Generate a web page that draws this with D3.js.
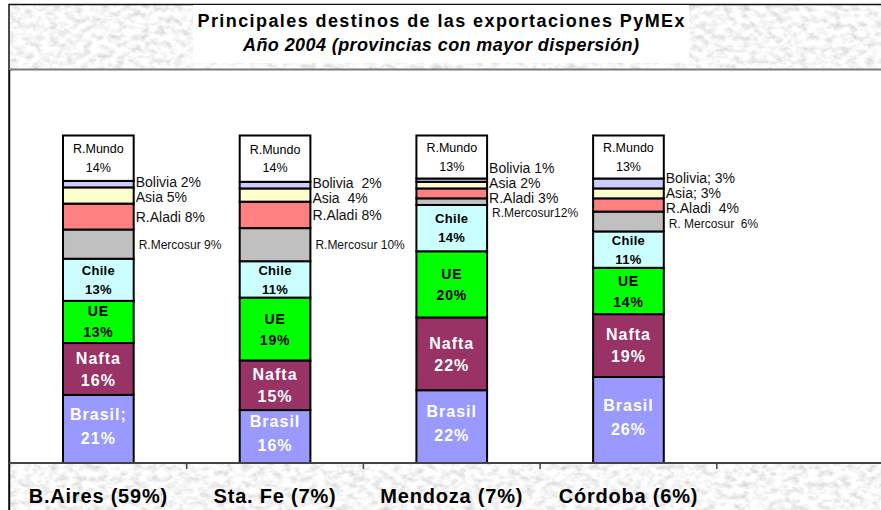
<!DOCTYPE html>
<html>
<head>
<meta charset="utf-8">
<script src="https://cdn.jsdelivr.net/npm/d3@7"></script>
<style>
    body { margin: 0; background: #fff; }
    svg { display: block; font-family: "Liberation Sans", Arial, sans-serif; }
    text { white-space: pre; }
</style>
</head>
<body>
<svg id="chart" width="881" height="510"></svg>
<script>
// datos (porcentajes por provincia, de abajo hacia arriba)
const provinces = ["B.Aires (59%)", "Sta. Fe (7%)", "Mendoza (7%)", "Córdoba (6%)"];
const series = ["Brasil", "Nafta", "UE", "Chile", "R.Mercosur", "R.Aladi", "Asia", "Bolivia", "R.Mundo"];
const colors = ["#9999ff", "#993366", "#00ff00", "#ccffff", "#c0c0c0", "#ff8080", "#ffffcc", "#ccccff", "#ffffff"];

const baires_values = [21, 16, 13, 13, 9, 8, 5, 2, 14];
const stafe_values = [16, 15, 19, 11, 10, 8, 4, 2, 14];
const mendoza_values = [22, 22, 20, 14, 2, 3, 2, 1, 13];
const cordoba_values = [26, 19, 14, 11, 6, 4, 3, 3, 13];

// etiquetas laterales (R.Mercosur, R.Aladi, Asia, Bolivia) tal como aparecen
const baires_side = ["R.Mercosur 9%", "R.Aladi 8%", "Asia 5%", "Bolivia 2%"];
const stafe_side = ["R.Mercosur 10%", "R.Aladi 8%", "Asia  4%", "Bolivia  2%"];
const mendoza_side = ["R.Mercosur12%", "R.Aladi 3%", "Asia 2%", "Bolivia 1%"];
const cordoba_side = ["R. Mercosur  6%", "R.Aladi  4%", "Asia; 3%", "Bolivia; 3%"];

const brasil_names = ["Brasil;", "Brasil", "Brasil", "Brasil"];

const title_1 = "Principales destinos de las exportaciones PyMEx";
const title_2 = "Año 2004 (provincias con mayor dispersión)";

const all_values = [baires_values, stafe_values, mendoza_values, cordoba_values];
const all_side = [baires_side, stafe_side, mendoza_side, cordoba_side];

const svg = d3.select("#chart");
const width = 881, height = 510;

// textura tipo granito para el fondo
const defs = svg.append("defs");
const filter = defs.append("filter").attr("id", "granite")
    .attr("x", 0).attr("y", 0).attr("width", "100%").attr("height", "100%");
filter.append("feTurbulence")
    .attr("type", "fractalNoise")
    .attr("baseFrequency", "0.12 0.17")
    .attr("numOctaves", 3)
    .attr("seed", 7);
filter.append("feColorMatrix")
    .attr("type", "matrix")
    .attr("values", "0.65 0 0 0 0.6  0.65 0 0 0 0.6  0.65 0 0 0 0.6  0 0 0 0 1");

svg.append("rect")
    .attr("x", 9).attr("y", 4)
    .attr("width", width - 9).attr("height", height - 4)
    .attr("filter", "url(#granite)");

// marco exterior
svg.append("path")
    .attr("d", `M9,${height} V4.5 H${width}`)
    .attr("fill", "none")
    .attr("stroke", "#111")
    .attr("stroke-width", 1.5);

// caja blanca del titulo
svg.append("rect")
    .attr("x", 193).attr("y", 5)
    .attr("width", 496).attr("height", 58)
    .attr("fill", "#fff");

svg.append("text")
    .attr("x", 441).attr("y", 27)
    .attr("text-anchor", "middle")
    .attr("font-size", 18).attr("font-weight", "bold")
    .attr("textLength", 487).attr("lengthAdjust", "spacing")
    .text(title_1);

svg.append("text")
    .attr("x", 441).attr("y", 51)
    .attr("text-anchor", "middle")
    .attr("font-size", 18).attr("font-weight", "bold").attr("font-style", "italic")
    .attr("textLength", 396).attr("lengthAdjust", "spacing")
    .text(title_2);

// area de grafico
const plot_top = 70, plot_bottom = 463, plot_left = 10;

svg.append("rect")
    .attr("x", 9.5).attr("y", plot_top)
    .attr("width", width - 9.5).attr("height", plot_bottom - plot_top)
    .attr("fill", "#fff");
svg.append("line")
    .attr("x1", 9).attr("x2", width)
    .attr("y1", plot_top - 0.5).attr("y2", plot_top - 0.5)
    .attr("stroke", "#7a7a7a").attr("stroke-width", 2);
svg.append("line")
    .attr("x1", 9.5).attr("x2", 9.5)
    .attr("y1", plot_top).attr("y2", height)
    .attr("stroke", "#111").attr("stroke-width", 1.5);

const x = d3.scaleBand()
    .domain(provinces.concat([""]))
    .range([plot_left, plot_left + 5 * 176.7])
    .paddingInner(0.6).paddingOuter(0.3);
const band_step = x.step();

const y = d3.scaleLinear()
    .domain([0, 120])
    .range([plot_bottom, plot_top]);

// apilado normalizado a 100%
const stacked = provinces.map((p, i) => {
    const vals = all_values[i];
    const total = d3.sum(vals);
    let acc = 0;
    return vals.map((v, j) => {
        const y0 = acc / total * 100;
        acc += v;
        return { province: p, pi: i, si: j, value: v, y0: y0, y1: acc / total * 100 };
    });
});

const bar_group = svg.append("g");
bar_group.selectAll("g")
    .data(stacked)
    .enter()
    .append("g")
    .selectAll("rect")
    .data(d => d)
    .enter()
    .append("rect")
    .attr("x", d => x(d.province))
    .attr("y", d => y(d.y1))
    .attr("width", x.bandwidth())
    .attr("height", d => y(d.y0) - y(d.y1))
    .attr("fill", d => colors[d.si])
    .attr("stroke", "#000")
    .attr("stroke-width", 2);

// eje inferior con marcas entre categorias
svg.append("line")
    .attr("x1", 9).attr("x2", width)
    .attr("y1", plot_bottom).attr("y2", plot_bottom)
    .attr("stroke", "#444").attr("stroke-width", 2);
svg.append("g")
    .selectAll("line")
    .data(d3.range(1, 5))
    .enter()
    .append("line")
    .attr("x1", i => plot_left + i * band_step)
    .attr("x2", i => plot_left + i * band_step)
    .attr("y1", plot_bottom).attr("y2", plot_bottom + 6)
    .attr("stroke", "#444").attr("stroke-width", 1.5);

svg.append("g")
    .selectAll("text")
    .data(provinces)
    .enter()
    .append("text")
    .attr("x", d => x(d) + x.bandwidth() / 2)
    .attr("y", 503)
    .attr("text-anchor", "middle")
    .attr("font-size", 20).attr("font-weight", "bold")
    .attr("letter-spacing", 0.8)
    .attr("fill", "#000")
    .text(d => d);

// etiquetas internas: nombre y porcentaje en dos lineas
const inner_style = {
    "Brasil":  { size: 16, weight: "bold", fill: "#fff", gap: 24, spacing: 1, shift: -3 },
    "Nafta":   { size: 16, weight: "bold", fill: "#fff", gap: 22, spacing: 1, shift: 0 },
    "UE":      { size: 14, weight: "bold", fill: "#000", gap: 21, spacing: 0.8, shift: 0 },
    "Chile":   { size: 13, weight: "bold", fill: "#000", gap: 19, spacing: 0.3, shift: 0 },
    "R.Mundo": { size: 12.5, weight: "normal", fill: "#000", gap: 18.5, spacing: 0, shift: 0 }
};

const inner_data = stacked.flat().filter(d => inner_style[series[d.si]]);

const inner_labels = svg.append("g")
    .selectAll("g")
    .data(inner_data)
    .enter()
    .append("g")
    .attr("transform", d => {
        const st = inner_style[series[d.si]];
        const cy = (y(d.y0) + y(d.y1)) / 2 + st.shift;
        return `translate(${x(d.province) + x.bandwidth() / 2},${cy - st.gap / 2 + st.size * 0.36})`;
    });

inner_labels.append("text")
    .attr("text-anchor", "middle")
    .attr("font-size", d => inner_style[series[d.si]].size)
    .attr("font-weight", d => inner_style[series[d.si]].weight)
    .attr("letter-spacing", d => inner_style[series[d.si]].spacing)
    .attr("fill", d => inner_style[series[d.si]].fill)
    .text(d => series[d.si] === "Brasil" ? brasil_names[d.pi] : series[d.si]);

inner_labels.append("text")
    .attr("text-anchor", "middle")
    .attr("y", d => inner_style[series[d.si]].gap)
    .attr("font-size", d => inner_style[series[d.si]].size)
    .attr("font-weight", d => inner_style[series[d.si]].weight)
    .attr("letter-spacing", d => inner_style[series[d.si]].spacing)
    .attr("fill", d => inner_style[series[d.si]].fill)
    .text(d => d.value + "%");

// etiquetas laterales, separadas para que no se encimen
const min_gap = 15;
stacked.forEach((bars, i) => {
    let items = [4, 5, 6, 7].map((si, k) => {
        const d = bars[si];
        return { text: all_side[i][k], si: si, pos: (y(d.y0) + y(d.y1)) / 2 };
    });
    // de arriba hacia abajo
    items.sort((a, b) => a.pos - b.pos);
    for (let iter = 0; iter < 50; iter++) {
        for (let k = 1; k < items.length; k++) {
            const overlap = min_gap - (items[k].pos - items[k - 1].pos);
            if (overlap > 0) {
                items[k - 1].pos -= overlap / 2;
                items[k].pos += overlap / 2;
            }
        }
    }
    const bar_right = x(provinces[i]) + x.bandwidth();
    svg.append("g")
        .selectAll("text")
        .data(items)
        .enter()
        .append("text")
        .attr("x", d => bar_right + (d.si === 4 ? 5 : 2))
        .attr("y", d => d.pos + (d.si === 4 ? 4.5 : 5))
        .attr("font-size", d => d.si === 4 ? 12 : 14)
        .attr("fill", "#111")
        .text(d => d.text);
});
</script>
</body>
</html>
